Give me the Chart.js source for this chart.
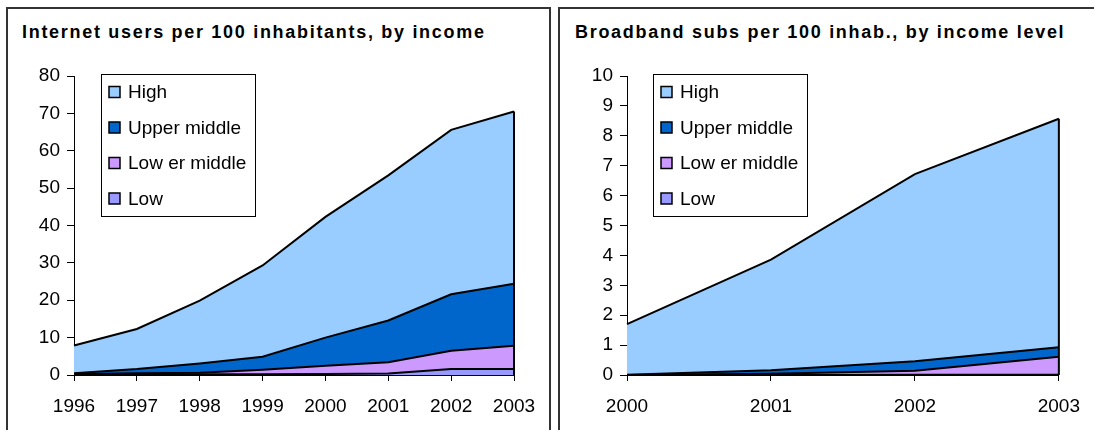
<!DOCTYPE html>
<html>
<head>
<meta charset="utf-8">
<script src="https://cdn.jsdelivr.net/npm/chart.js@4.4.1/dist/chart.umd.min.js"></script>
<style>
  html, body { margin: 0; padding: 0; background: #fff; }
  body { width: 1094px; height: 430px; position: relative; overflow: hidden; }
  .panel { position: absolute; border: 2px solid #333; box-sizing: border-box; }
  .title {
    position: absolute; top: 23px; margin: 0;
    font: bold 18px "Liberation Sans", Arial, sans-serif;
    line-height: 18px; letter-spacing: 1.7px; color: #000; white-space: nowrap;
  }
  canvas { position: absolute; top: 0; }
</style>
</head>
<body>
<div class="panel" style="left:6px; top:7px; width:545px; height:440px;"></div>
<div class="panel" style="left:558px; top:7px; width:545px; height:440px;"></div>
<div class="title" style="left:22px;">Internet users per 100 inhabitants, by income</div>
<div class="title" style="left:575px;">Broadband subs per 100 inhab., by income level</div>
<canvas id="usersChart" width="550" height="430" style="left:0;"></canvas>
<canvas id="bbChart" width="539" height="430" style="left:555px;"></canvas>

<script>
// series names, bottom of the stack first
const seriesNames = ['Low', 'Low er middle', 'Upper middle', 'High'];
const seriesColors = ['#9999FF', '#CC99FF', '#0066CC', '#99CCFF'];

// Internet users per 100 inhabitants
const userYears = ['1996', '1997', '1998', '1999', '2000', '2001', '2002', '2003'];
const usersLow = [0.05, 0.1, 0.2, 0.2, 0.3, 0.4, 1.6, 1.6];
const usersLowerMid = [0.15, 0.4, 0.4, 1.2, 2.2, 3.0, 4.9, 6.2];
const usersUpperMid = [0.3, 1.1, 2.5, 3.5, 7.5, 11.2, 15.1, 16.6];
const usersHigh = [7.4, 10.7, 16.8, 24.4, 32.3, 38.8, 44.0, 46.1];

// Broadband subscribers per 100 inhabitants
const bbYears = ['2000', '2001', '2002', '2003'];
const bbLow = [0, 0, 0.01, 0.01];
const bbLowerMid = [0, 0.04, 0.13, 0.6];
const bbUpperMid = [0.01, 0.12, 0.32, 0.32];
const bbHigh = [1.69, 3.7, 6.26, 7.64];

const FONT = '"Liberation Sans", Arial, sans-serif';
Chart.defaults.font.family = FONT;
Chart.defaults.color = '#000';

// legend drawn as a framed box inside the plot, top series first
const boxLegend = {
  id: 'boxLegend',
  afterDraw(chart, args, opts) {
    const ctx = chart.ctx;
    const sets = chart.data.datasets.slice().reverse();
    ctx.save();
    ctx.fillStyle = '#fff';
    ctx.fillRect(opts.left, opts.top, opts.width, opts.height);
    ctx.strokeStyle = '#000';
    ctx.lineWidth = 1;
    ctx.strokeRect(opts.left + 0.5, opts.top + 0.5, opts.width, opts.height);
    ctx.font = '19px ' + FONT;
    ctx.textBaseline = 'middle';
    sets.forEach((ds, i) => {
      const cy = opts.top + opts.firstRow + i * opts.rowGap;
      const s = 11;
      ctx.fillStyle = ds.backgroundColor;
      ctx.fillRect(opts.left + 8, cy - s / 2, s, s);
      ctx.lineWidth = 1.5;
      ctx.strokeRect(opts.left + 8, cy - s / 2, s, s);
      ctx.fillStyle = '#000';
      ctx.fillText(ds.label, opts.left + 27, cy + 1);
    });
    ctx.restore();
  }
};

// closing edge of the stacked areas at the last category
const rightEdge = {
  id: 'rightEdge',
  afterDatasetsDraw(chart) {
    const last = chart.data.labels.length - 1;
    const top = chart.getDatasetMeta(chart.data.datasets.length - 1).data[last];
    const y0 = chart.scales.y.getPixelForValue(0);
    const ctx = chart.ctx;
    ctx.save();
    ctx.strokeStyle = '#000';
    ctx.lineWidth = 2;
    ctx.beginPath();
    ctx.moveTo(top.x, y0);
    ctx.lineTo(top.x, top.y);
    ctx.stroke();
    ctx.restore();
  }
};

function makeSets(values) {
  return values.map((v, i) => ({
    label: seriesNames[i],
    data: v,
    backgroundColor: seriesColors[i],
    borderColor: '#000',
    borderWidth: 2,
    pointRadius: 0,
    tension: 0,
    fill: i === 0 ? 'origin' : '-1'
  }));
}

function makeChart(id, labels, values, yMax, yStep, yWidth, padRight, legendBox) {
  return new Chart(document.getElementById(id), {
    type: 'line',
    data: { labels: labels, datasets: makeSets(values) },
    options: {
      responsive: false,
      animation: false,
      layout: { padding: { top: 76, left: 0, right: padRight, bottom: 0 } },
      plugins: {
        legend: { display: false },
        tooltip: { enabled: false },
        boxLegend: legendBox
      },
      scales: {
        x: {
          offset: false,
          grid: { drawOnChartArea: false, color: '#000', tickLength: 6 },
          border: { color: '#000', width: 1 },
          ticks: { font: { size: 19 }, padding: 14, maxRotation: 0 },
          afterFit: s => { s.height = 55; }
        },
        y: {
          stacked: true,
          min: 0,
          max: yMax,
          grid: { drawOnChartArea: false, color: '#000', tickLength: 7 },
          border: { color: '#000', width: 1 },
          ticks: { stepSize: yStep, font: { size: 19 }, padding: 7 },
          afterFit: s => { s.width = yWidth; }
        }
      }
    },
    plugins: [boxLegend, rightEdge]
  });
}

makeChart('usersChart', userYears,
  [usersLow, usersLowerMid, usersUpperMid, usersHigh],
  80, 10, 74, 36,
  { left: 101, top: 74, width: 154, height: 142, firstRow: 18, rowGap: 35.5 });

makeChart('bbChart', bbYears,
  [bbLow, bbLowerMid, bbUpperMid, bbHigh],
  10, 1, 72, 28,
  { left: 98, top: 74, width: 154, height: 142, firstRow: 18, rowGap: 35.5 });
</script>
</body>
</html>
